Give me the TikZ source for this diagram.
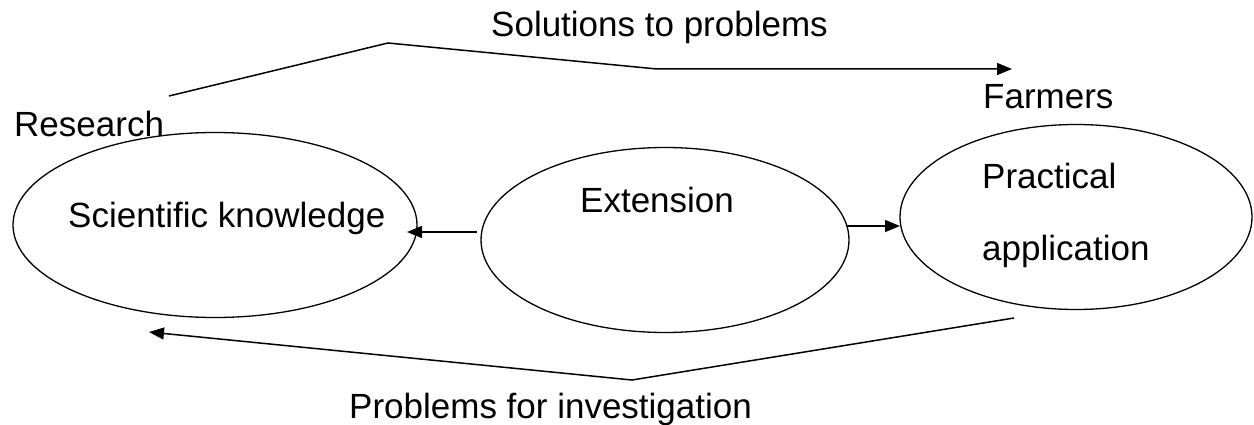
\documentclass[tikz,border=0pt]{standalone}
\usepackage{fontspec}
\setmainfont{Liberation Sans}
\usetikzlibrary{arrows.meta,shapes.geometric}
\tikzset{
  oval/.style={draw, ellipse, line width=1.3pt, inner sep=0pt},
  lbl/.style={anchor=base west, inner sep=0pt, font=\fontsize{35}{42}\selectfont},
  conn/.style={line width=1.5pt},
  arr/.style={conn, -{Triangle[length=15pt,width=12pt]}},
}
\begin{document}
\begin{tikzpicture}[x=1pt,y=-1pt]
\useasboundingbox (0,0) rectangle (1254,425);
% ovals
\node[oval, minimum width=404pt, minimum height=185pt] (sk) at (215,225) {};
\node[oval, minimum width=368pt, minimum height=185pt] (ext) at (665,240) {};
\node[oval, minimum width=352pt, minimum height=185pt] (pa) at (1076,217) {};
% labels
\node[lbl] (tsk) at (68,227) {Scientific knowledge};
\node[lbl] (text) at (580,212) {Extension};
\node[lbl] (tp1) at (982,189) {Practical};
\node[lbl] (tp2) at (982,260) {application};
\node[lbl] (res) at (14,137) {Research};
\node[lbl] (far) at (983,109) {Farmers};
\node[lbl] (sol) at (491,37) {Solutions to problems};
\node[lbl] (pro) at (349,418) {Problems for investigation};
% connector points
\coordinate (t0) at (169,96);
\coordinate (t1) at (388,43);
\coordinate (t2) at (657,69);
\coordinate (t3) at (1012,69);
\coordinate (b0) at (1014,318);
\coordinate (b1) at (632,380);
\coordinate (b2) at (149,332);
\coordinate (l0) at (477,232);
\coordinate (l1) at (407,232);
\coordinate (r0) at (847,226);
\coordinate (r1) at (900,226);
% connectors
\draw[arr] (t0) -- (t1) -- (t2) -- (t3);
\draw[arr] (b0) -- (b1) -- (b2);
\draw[arr] (l0) -- (l1);
\draw[arr] (r0) -- (r1);
\end{tikzpicture}
\end{document}
